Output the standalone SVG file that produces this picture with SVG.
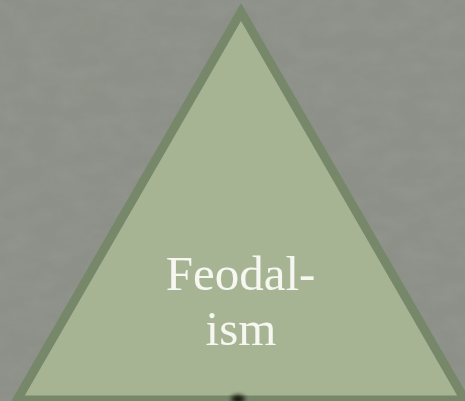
<svg xmlns="http://www.w3.org/2000/svg" width="465" height="401" viewBox="0 0 465 401">
  <defs>
    <filter id="texture" x="0" y="0" width="100%" height="100%">
      <feTurbulence type="fractalNoise" baseFrequency="0.035 0.06" numOctaves="4" seed="7" result="noise"/>
      <feColorMatrix type="matrix" values="0 0 0 0 0.33  0 0 0 0 0.35  0 0 0 0 0.31  0 0 0 -1.1 0.75" in="noise" result="dark"/>
      <feComposite in="dark" in2="SourceGraphic" operator="atop"/>
    </filter>
    <filter id="blur" x="-100%" y="-100%" width="300%" height="300%">
      <feGaussianBlur stdDeviation="2"/>
    </filter>
    <style>
      .tri { fill: #a7b494; stroke: #77886a; stroke-width: 9; stroke-linejoin: miter; }
      .label { font-family: "Liberation Serif", "DejaVu Serif", serif; font-size: 49px; fill: #f7f7f2; text-anchor: middle; }
    </style>
  </defs>
  <g id="background">
    <rect x="0" y="0" width="465" height="401" fill="#8c9088"/>
    <rect x="0" y="0" width="465" height="401" fill="#8c9088" filter="url(#texture)" opacity="0.55"/>
  </g>
  <g id="node-feodalism">
    <polygon class="tri" points="241,12 17,400 465,400"/>
    <text class="label" x="240.5" y="290">Feodal-</text>
    <text class="label" x="241" y="345">ism</text>
  </g>
  <g id="spot">
    <ellipse cx="238" cy="399" rx="7" ry="4" fill="#141810" filter="url(#blur)"/>
  </g>
  <g id="connectors"/>
</svg>
